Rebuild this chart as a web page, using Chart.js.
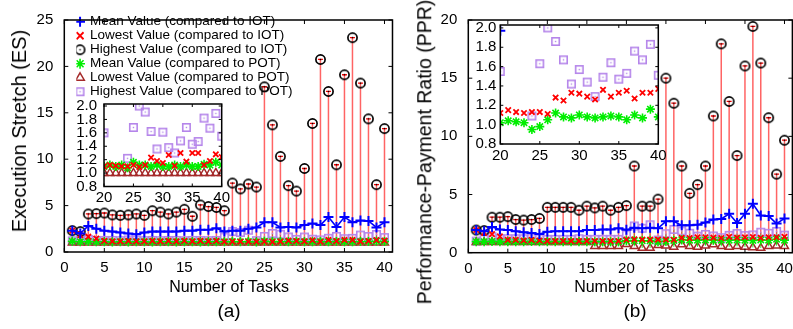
<!DOCTYPE html>
<html><head><meta charset="utf-8">
<script src="https://cdn.jsdelivr.net/npm/chart.js@4.4.1/dist/chart.umd.min.js"></script>
<style>
html,body{margin:0;padding:0;background:#fff;}
#wrap{position:relative;width:793px;height:329px;overflow:hidden;font-family:'Liberation Sans',Arial,sans-serif;background:#fff;}
canvas{position:absolute;}
.t{position:absolute;white-space:nowrap;color:#000;line-height:1;transform:translate(-50%,-50%);}
.r{transform:translate(-50%,-50%) rotate(-90deg);}
</style></head><body>
<div id="wrap">
<canvas id="cA" width="400" height="329" style="left:0;top:0"></canvas>
<canvas id="cB" width="400" height="329" style="left:400px;top:0"></canvas>
<canvas id="iA" width="175" height="125" style="left:60px;top:88px"></canvas>
<canvas id="iB" width="215" height="160" style="left:455px;top:12px"></canvas>
<div class="t r" style="left:19px;top:131px;font-size:20px">Execution Stretch (ES)</div>
<div class="t r" style="left:425px;top:152px;font-size:19.5px">Performance-Payment Ratio (PPR)</div>
<div class="t" style="left:229px;top:287px;font-size:16px">Number of Tasks</div>
<div class="t" style="left:634px;top:287px;font-size:16px">Number of Tasks</div>
<div class="t" style="left:229px;top:310px;font-size:19px">(a)</div>
<div class="t" style="left:635px;top:310px;font-size:19px">(b)</div>
</div>
<script>
// ---------------- data ----------------
const tasks = [1,2,3,4,5,6,7,8,9,10,11,12,13,14,15,16,17,18,19,20,21,22,23,24,25,26,27,28,29,30,31,32,33,34,35,36,37,38,39,40];
const seriesNames = ['Mean Value (compared to IOT)','Lowest Value (compared to IOT)','Highest Value (compared to IOT)','Mean Value (compared to POT)','Lowest Value (compared to POT)','Highest Value (compared to POT)'];

// (a) Execution Stretch
const esMeanIOT = [2.3,2.0,2.8,2.5,2.3,2.2,2.1,2.0,1.9,2.1,2.2,2.2,2.2,2.2,2.3,2.3,2.4,2.4,2.55,2.2,2.3,2.3,2.5,2.65,3.2,3.2,2.65,2.7,2.65,2.9,3.07,2.9,3.77,2.7,3.77,3.2,3.4,3.35,2.65,3.2];
const esLowIOT  = [2.3,1.8,1.65,1.45,1.2,1.15,1.15,1.2,1.15,1.15,1.2,1.15,1.2,1.15,1.2,1.15,1.2,1.15,1.2,1.1,1.12,1.11,1.1,1.1,1.12,1.09,1.12,1.23,1.18,1.15,1.27,1.11,1.3,1.17,1.3,1.3,1.12,1.18,1.28,1.24];
const esHighIOT = [2.3,2.2,4.1,4.13,4.2,4.0,3.95,4.0,4.1,3.95,4.45,4.3,4.1,4.3,4.6,3.85,5.07,4.9,4.8,4.45,7.43,6.8,7.33,7.0,17.8,13.7,10.3,7.15,6.56,9.0,13.85,20.75,17.3,9.4,19.1,23.1,18.2,14.35,7.26,13.3];
const esMeanPOT = [1.15,1.1,1.12,1.1,1.1,1.08,1.1,1.08,1.1,1.1,1.08,1.1,1.1,1.08,1.1,1.1,1.08,1.1,1.1,1.1,1.12,1.1,1.12,1.08,1.16,1.12,1.12,1.1,1.12,1.1,1.1,1.12,1.1,1.12,1.1,1.1,1.13,1.12,1.16,1.12];
const esLowPOT  = [1,1,1,1,1,1,1,1,1,1,1,1,1,1,1,1,1,1,1,1,1,1,1,1,1,1,1,1,1,1,1,1,1,1,1,1,1,1,1,1];
const esHighPOT = [1.2,1.22,1.35,1.25,1.25,1.25,1.22,1.3,1.28,1.22,1.25,1.22,1.25,1.25,1.22,1.25,1.25,1.22,1.25,1.6,2.2,2.1,2.35,1.22,1.68,2.0,1.91,1.62,1.36,1.61,1.38,1.3,1.48,1.68,1.43,1.47,1.82,1.67,1.89,1.55];

// (b) Performance-Payment Ratio
const pprMeanIOT = [1.95,1.85,2.2,2.0,1.95,1.85,1.75,1.7,1.6,1.8,1.85,1.85,1.85,1.85,1.95,1.95,2.0,2.0,2.1,1.97,2.15,2.1,2.15,2.1,2.7,2.7,2.35,2.35,2.4,2.6,2.85,2.9,3.35,2.55,3.35,4.2,3.2,3.15,2.5,2.95];
const pprLowIOT  = [1.95,1.7,1.6,1.4,1.1,1.1,1.05,1.1,1.05,1.0,1.0,1.0,1.0,1.0,1.0,1.0,1.0,1.0,1.0,1.12,1.15,1.13,1.12,1.13,1.13,1.11,1.28,1.25,1.33,1.32,1.29,1.26,1.36,1.29,1.33,1.35,1.27,1.33,1.33,1.37];
const pprHighIOT = [1.95,1.9,3.05,3.05,3.1,2.85,2.8,2.85,2.95,3.9,3.9,3.9,3.9,3.65,4.0,3.85,4.0,3.65,3.9,4.05,7.45,4.0,4.0,4.6,15.0,12.85,7.45,5.1,5.85,7.45,11.75,17.95,13.0,8.35,16.05,19.45,16.3,11.6,6.75,9.67];
const pprMeanPOT = [0.95,0.95,0.97,0.95,0.95,0.95,0.95,0.97,0.95,0.95,0.95,0.95,0.95,0.95,0.95,0.95,0.95,0.95,0.95,1.02,1.04,1.03,1.02,0.95,0.98,1.05,1.12,1.08,1.07,1.1,1.08,1.07,1.08,1.09,1.08,1.05,1.1,1.07,1.16,1.08];
const pprLowPOT  = [0.9,0.9,0.9,0.9,0.9,0.9,0.9,0.9,0.9,0.9,0.9,0.9,0.9,0.9,0.9,0.55,0.55,0.55,0.55,0.72,0.55,0.4,0.4,0.64,0.6,0.5,0.7,0.55,0.5,0.6,0.7,0.55,0.5,0.55,0.5,0.45,0.4,0.55,0.6,0.55];
const pprHighPOT = [1.0,1.25,1.37,1.2,1.2,1.2,1.2,1.25,1.2,1.15,1.15,1.15,1.15,1.2,1.15,1.15,1.15,1.15,1.15,1.55,2.3,2.1,2.4,1.09,1.63,2.0,1.86,1.67,1.42,1.57,1.44,1.29,1.49,1.64,1.47,1.53,1.76,1.67,1.83,1.51];

const xTicksMain = [0,5,10,15,20,25,30,35,40];
const xTicksInset = [20,25,30,35,40];
const yTicksES = [0,5,10,15,20,25];
const yTicksPPR = [0,5,10,15,20];
const yTicksInset = [0.8,1.0,1.2,1.4,1.6,1.8,2.0];

// ---------------- styling helpers ----------------
const FONT = "'Liberation Sans', Arial, Helvetica, sans-serif";
Chart.defaults.font.family = FONT;
Chart.defaults.color = '#000';

const BLUE='#0000ff', RED='#ff0000', GREEN='#00ee00', BROWN='#a52a2a', PURPLE='#b585ea';

function circleImg(){ const c=document.createElement('canvas'); c.width=13; c.height=13; const g=c.getContext('2d');
  g.strokeStyle='#000'; g.lineWidth=1.7; g.beginPath(); g.arc(6.5,6.5,4.6,0,Math.PI*2); g.stroke();
  g.fillStyle='#000'; g.fillRect(5.8,5.8,1.4,1.4); return c; }
function squareImg(){ const c=document.createElement('canvas'); c.width=11; c.height=11; const g=c.getContext('2d');
  g.strokeStyle=PURPLE; g.lineWidth=1.6; g.strokeRect(1.8,1.8,7.4,7.4);
  g.fillStyle=PURPLE; g.fillRect(4.8,4.8,1.4,1.4); return c; }
const CIRC = circleImg(), SQR = squareImg();

const pts = vals => vals.map((v,i)=>({x:tasks[i], y:v}));
const segs = (lo,hi) => { const o=[]; lo.forEach((v,i)=>{ o.push({x:tasks[i],y:v},{x:tasks[i],y:hi[i]},{x:tasks[i],y:null}); }); return o; };

function pointSets(mean, low, high, pm, pl, ph, meanLine){
  return [
    {label:seriesNames[0], data:pts(mean), showLine:meanLine, borderColor:BLUE, borderWidth:1.6, pointStyle:'cross', pointRadius:5, pointBorderWidth:2, pointBorderColor:BLUE, backgroundColor:BLUE},
    {label:seriesNames[1], data:pts(low), pointStyle:'crossRot', pointRadius:3.8, pointBorderWidth:1.8, pointBorderColor:RED, borderColor:RED, backgroundColor:RED},
    {label:seriesNames[2], data:pts(high), pointStyle:CIRC, borderColor:'#000', backgroundColor:'#000'},
    {label:seriesNames[3], data:pts(pm), pointStyle:'star', pointRadius:4.5, pointBorderWidth:1.6, pointBorderColor:GREEN, borderColor:GREEN, backgroundColor:GREEN},
    {label:seriesNames[4], data:pts(pl), pointStyle:'triangle', pointRadius:4.6, pointBorderWidth:1.5, pointBorderColor:BROWN, pointBackgroundColor:'rgba(0,0,0,0)', borderColor:BROWN, backgroundColor:'rgba(0,0,0,0)'},
    {label:seriesNames[5], data:pts(ph), pointStyle:SQR, borderColor:PURPLE, backgroundColor:PURPLE}
  ];
}
function mainSets(mean, low, high, pm, pl, ph){
  return pointSets(mean, low, high, pm, pl, ph, true).concat([
    {label:'cap', data:pts(high), pointStyle:'line', pointRadius:2.5, pointBorderWidth:1.3, pointBorderColor:RED},
    {label:'iotbar', data:segs(low,high), showLine:true, spanGaps:false, pointRadius:0, borderColor:'rgba(255,40,40,0.72)', borderWidth:1.5},
    {label:'potbar', data:segs(pl,ph), showLine:true, spanGaps:false, pointRadius:0, borderColor:'rgba(0,220,0,0.8)', borderWidth:1}
  ]);
}

const framePlugin = {
  id:'frame',
  afterDatasetsDraw(chart, args, o){
    const {ctx, chartArea:a, scales:{x,y}} = chart;
    ctx.save();
    ctx.strokeStyle='#000'; ctx.lineWidth=o.lw||1.5;
    ctx.strokeRect(a.left, a.top, a.right-a.left, a.bottom-a.top);
    const L=o.tick||4; ctx.lineWidth=1; ctx.beginPath();
    x.ticks.forEach(t=>{const p=x.getPixelForValue(t.value); ctx.moveTo(p,a.bottom); ctx.lineTo(p,a.bottom-L); ctx.moveTo(p,a.top); ctx.lineTo(p,a.top+L);});
    y.ticks.forEach(t=>{const p=y.getPixelForValue(t.value); ctx.moveTo(a.left,p); ctx.lineTo(a.left+L,p); ctx.moveTo(a.right,p); ctx.lineTo(a.right-L,p);});
    ctx.stroke(); ctx.restore();
  }
};
const legendShift = {
  id:'legendShift',
  afterLayout(chart, args, o){
    const lg = chart.legend; if(!lg || o.dx===undefined) return;
    const h = lg.bottom - lg.top;
    lg.left+=o.dx; lg.right+=o.dx; lg.top=o.top; lg.bottom=o.top+h;
  }
};

function axisX(min,max,ticks,h,pad){
  return {type:'linear', min, max, offset:false,
    afterBuildTicks(s){ s.ticks = ticks.map(v=>({value:v})); },
    ticks:{padding:pad, maxRotation:0, autoSkip:false, font:{size:15}, color:'#000'},
    grid:{display:false, drawTicks:false, offset:false}, border:{display:false},
    afterFit(s){ s.height=h; } };
}
function axisY(min,max,w,pad,dec,list){
  return {type:'linear', min, max,
    afterBuildTicks(s){ s.ticks = list.map(v=>({value:v})); },
    ticks:{padding:pad, autoSkip:false, font:{size:15}, color:'#000', callback:v=>dec?Number(v).toFixed(dec):String(v)},
    grid:{display:false, drawTicks:false}, border:{display:false},
    afterFit(s){ s.width=w; } };
}

function makeChart(id, datasets, opts){
  return new Chart(document.getElementById(id), {
    type:'scatter',
    data:{datasets},
    options:{responsive:false, animation:false, events:[],
      layout:{padding:opts.padding},
      scales:{x:opts.x, y:opts.y},
      plugins:{tooltip:{enabled:false}, legend:opts.legend||{display:false}, frame:{lw:opts.lw||1.5, tick:opts.tick||4}, legendShift:opts.shift||{}}
    },
    plugins:[framePlugin, legendShift]
  });
}

// (a) main
makeChart('cA', mainSets(esMeanIOT, esLowIOT, esHighIOT, esMeanPOT, esLowPOT, esHighPOT), {
  padding:{left:0,right:7,top:13.5,bottom:0},
  x:axisX(0,41,xTicksMain,77,7),
  y:axisY(0,25,64.3,11,0,yTicksES),
  legend:{display:true, position:'chartArea', align:'start',
    labels:{usePointStyle:true, boxWidth:6.5, boxHeight:7, padding:0.5, color:'#000', font:{size:13.5},
      filter:(it)=>it.datasetIndex<6}},
  shift:{dx:12, top:14.5}
});
// (b) main
makeChart('cB', mainSets(pprMeanIOT, pprLowIOT, pprHighIOT, pprMeanPOT, pprLowPOT, pprHighPOT), {
  padding:{left:0,right:3.7,top:13,bottom:0},
  x:axisX(0,41,xTicksMain,76.3,7),
  y:axisY(0,20,68.3,11,0,yTicksPPR)
});
// insets
makeChart('iA', pointSets(esMeanIOT, esLowIOT, esHighIOT, esMeanPOT, esLowPOT, esHighPOT, false), {
  padding:{left:0,right:13.3,top:11.5,bottom:0},
  x:axisX(20,40,xTicksInset,26.5,2),
  y:axisY(0.8,2.03,44,7,1,yTicksInset),
  tick:3
});
makeChart('iB', pointSets(pprMeanIOT, pprLowIOT, pprHighIOT, pprMeanPOT, pprLowPOT, pprHighPOT, false), {
  padding:{left:0,right:11.7,top:12.5,bottom:0},
  x:axisX(20,40,xTicksInset,28,3),
  y:axisY(0.8,2.03,45.3,4,1,yTicksInset),
  tick:3
});
</script>
</body></html>
